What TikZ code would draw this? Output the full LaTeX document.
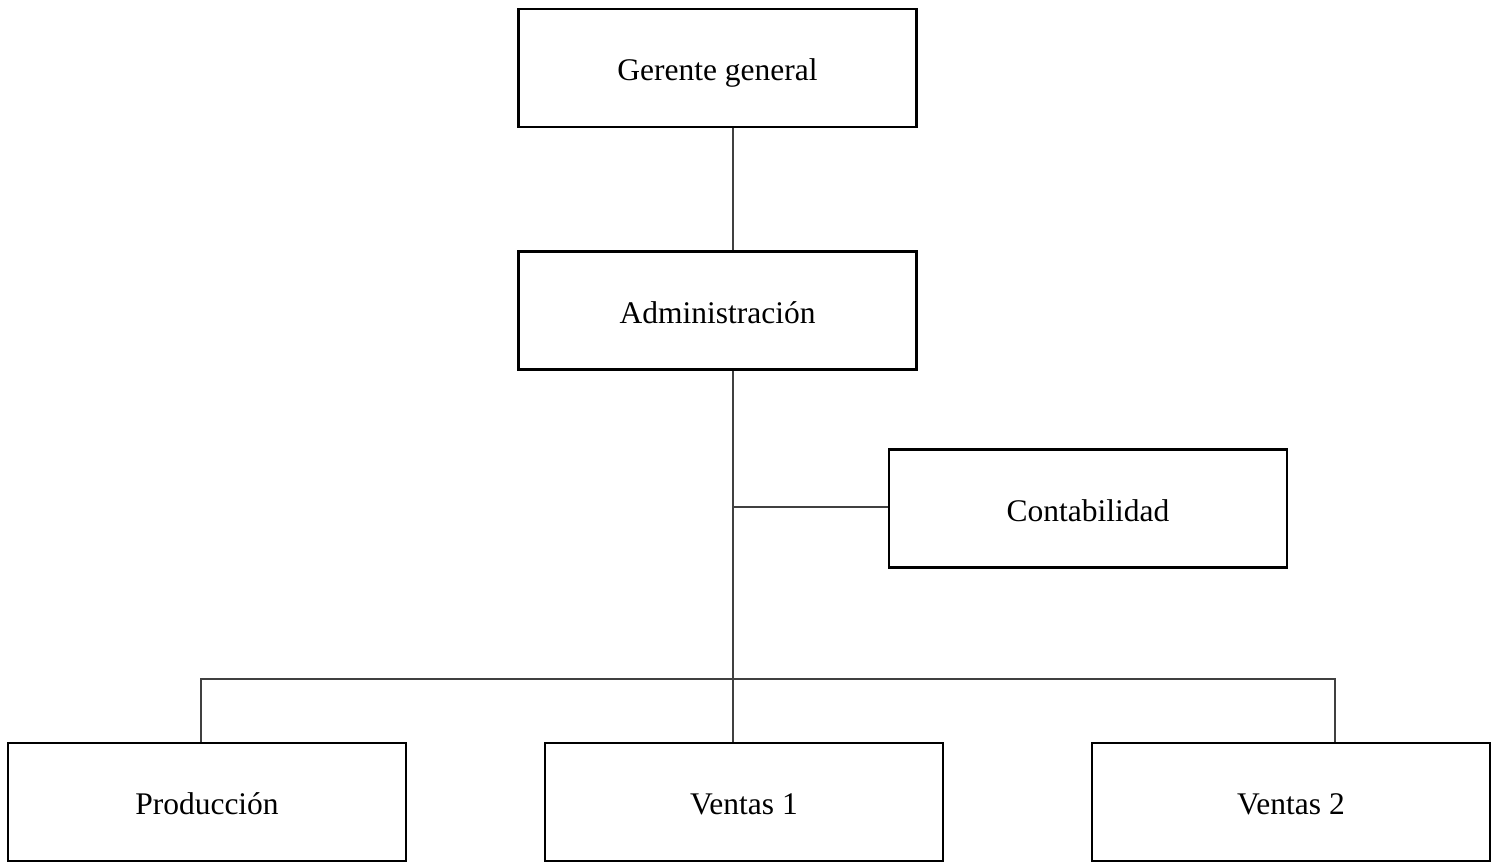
\documentclass[tikz,border=0pt]{standalone}
\usepackage{fontspec}
\setmainfont{Liberation Serif}
\begin{document}
\begin{tikzpicture}[x=1pt,y=-1pt,
  box/.style={draw=black, line width=2.6pt, rectangle, minimum width=398pt, minimum height=118pt, inner sep=0pt, text height=25pt, text depth=0pt, font=\fontsize{31.5}{38}\selectfont},
  conn/.style={draw=black!75, line width=1.3pt}]
\useasboundingbox (0,0) rectangle (1502,863);
\node[box] (gg) at (717.5,68) {Gerente general};
\node[box] (adm) at (717.5,310.5) {Administración};
\node[box] (cont) at (1088,508.5) {Contabilidad};
\node[box] (prod) at (207,802) {Producción};
\node[box] (v1) at (744,802) {Ventas 1};
\node[box] (v2) at (1291,802) {Ventas 2};
\coordinate (j1) at (733,507);
\coordinate (j2) at (733,679);
\draw[conn] (gg.south -| j1) -- (adm.north -| j1);
\draw[conn] (adm.south -| j1) -- (v1.north -| j1);
\draw[conn] (j1) -- (cont.west |- j1);
\draw[conn] (prod.north -| 201,0) -- (201,679) -- (1335,679) -- (v2.north -| 1335,0);
\end{tikzpicture}
\end{document}
